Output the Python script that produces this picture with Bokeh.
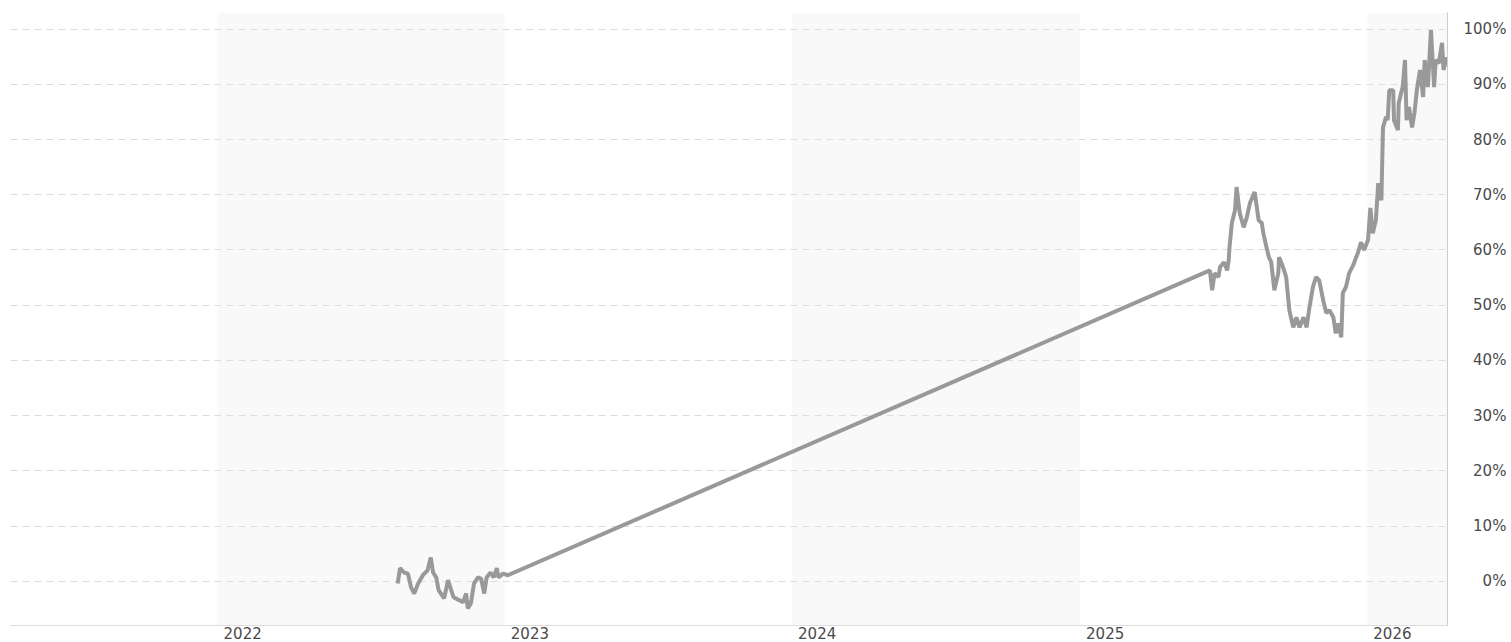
import pandas as pd
from bokeh.plotting import figure
from bokeh.models import (Range1d, FixedTicker, DatetimeTickFormatter,
                          BoxAnnotation, ColumnDataSource)
from bokeh.embed import file_html
from bokeh.resources import INLINE

# ---- data ----
dates = [
    "2022-08-18", "2022-08-21", "2022-08-26", "2022-08-31", "2022-09-04",
    "2022-09-08", "2022-09-13", "2022-09-19", "2022-09-25", "2022-09-29",
    "2022-10-02", "2022-10-06", "2022-10-09", "2022-10-16", "2022-10-21",
    "2022-10-25", "2022-10-28", "2022-11-04", "2022-11-09", "2022-11-13",
    "2022-11-15", "2022-11-19", "2022-11-23", "2022-11-28", "2022-12-02",
    "2022-12-06", "2022-12-09", "2022-12-14", "2022-12-18", "2022-12-22",
    "2022-12-24", "2022-12-30", "2023-01-05",
    "2025-06-15", "2025-06-18", "2025-06-21", "2025-06-26", "2025-06-28",
    "2025-07-03", "2025-07-07", "2025-07-09", "2025-07-10", "2025-07-13",
    "2025-07-17", "2025-07-19", "2025-07-23", "2025-07-28", "2025-08-01",
    "2025-08-05", "2025-08-11", "2025-08-16", "2025-08-20", "2025-08-22",
    "2025-08-26", "2025-08-29", "2025-09-01", "2025-09-05", "2025-09-10",
    "2025-09-11", "2025-09-16", "2025-09-20", "2025-09-24", "2025-09-29",
    "2025-10-03", "2025-10-07", "2025-10-12", "2025-10-16", "2025-10-19",
    "2025-10-24", "2025-10-28", "2025-11-01", "2025-11-06", "2025-11-10",
    "2025-11-14", "2025-11-19", "2025-11-22", "2025-11-25", "2025-11-29",
    "2025-12-01", "2025-12-05", "2025-12-09", "2025-12-14", "2025-12-18",
    "2025-12-20", "2025-12-24", "2025-12-28",
    "2026-01-02", "2026-01-05", "2026-01-08", "2026-01-12", "2026-01-15",
    "2026-01-19", "2026-01-21", "2026-01-25", "2026-01-27", "2026-01-29",
    "2026-02-03", "2026-02-04", "2026-02-09", "2026-02-10", "2026-02-15",
    "2026-02-18", "2026-02-20", "2026-02-23", "2026-02-27", "2026-03-02",
    "2026-03-05", "2026-03-09", "2026-03-13", "2026-03-15", "2026-03-19",
    "2026-03-23", "2026-03-27", "2026-03-29", "2026-04-02", "2026-04-06",
    "2026-04-08", "2026-04-12",
]
pct = [
    -0.4, 2.4, 1.6, 1.4, -1.1,
    -2.2, -0.4, 1.1, 2.0, 4.3,
    1.6, 0.7, -1.6, -3.1, 0.2,
    -1.6, -2.9, -3.4, -3.8, -2.2,
    -4.9, -4.0, -0.4, 0.7, 0.5,
    -2.2, 0.7, 1.6, 0.7, 2.4,
    0.7, 1.4, 1.1,
    56.3, 52.7, 55.8, 55.1, 56.9,
    57.8, 56.3, 58.2, 60.5, 64.9,
    67.2, 71.4, 66.7, 64.1, 65.9,
    68.5, 70.5, 65.4, 64.9, 63.0,
    60.5, 58.7, 57.8, 52.7, 55.8,
    58.7, 56.9, 55.1, 49.1, 46.0,
    47.8, 46.0, 47.8, 46.0, 49.1,
    53.3, 55.1, 54.5, 50.9, 48.6,
    49.1, 47.8, 44.9, 46.7, 44.2,
    52.2, 53.3, 55.8, 57.2, 58.7,
    59.4, 61.4, 60.0,
    61.8, 67.6, 63.0, 65.4, 72.1,
    69.0, 82.2, 84.1, 83.5, 88.9,
    88.9, 83.5, 81.7, 86.6, 89.5,
    94.4, 83.5, 85.9, 82.2, 84.8,
    88.9, 92.6, 87.7, 94.4, 89.5,
    99.8, 89.5, 94.4, 93.8, 97.5,
    92.6, 94.9,
]
tick_years = [2022, 2023, 2024, 2025, 2026]
band_years = [2022, 2024, 2026]
y_ticks = [0, 10, 20, 30, 40, 50, 60, 70, 80, 90, 100]
y_labels = ["0%", "10%", "20%", "30%", "40%", "50%", "60%", "70%", "80%", "90%", "100%"]

# ---- build ----
t = pd.to_datetime(dates)
x_end = t[-1] + pd.Timedelta(days=1)
x_start = x_end - pd.DateOffset(years=5)


def ms(ts):
    return pd.Timestamp(ts).value / 1e6


FONT = "DejaVu Sans"
TXT = "#4a4a4a"

p = figure(width=1510, height=641, x_axis_type="datetime",
           y_axis_location="right",
           x_range=Range1d(x_start, x_end), y_range=Range1d(-8, 103),
           output_backend="svg", toolbar_location=None,
           min_border_left=10, min_border_top=12, min_border_right=63,
           min_border_bottom=0)
p.outline_line_color = None
p.background_fill_color = "white"
p.border_fill_color = "white"

# alternating year bands
x0, x1 = ms(x_start), ms(x_end)
for yr in band_years:
    left = max(ms(f"{yr}-01-01"), x0)
    right = min(ms(f"{yr + 1}-01-01"), x1)
    p.add_layout(BoxAnnotation(left=left, right=right, fill_color="#f9f9f9",
                               fill_alpha=1.0, line_color=None, level="image"))

src = ColumnDataSource(dict(t=t, pct=pct))
p.line(x="t", y="pct", source=src, line_color="#999999", line_width=4)

# x axis: year labels placed just after each year start
xa = p.xaxis[0]
xa.ticker = FixedTicker(ticks=[ms(f"{yr}-01-01") + 32 * 86400000 for yr in tick_years],
                        minor_ticks=[])
fmt = "%Y"
xa.formatter = DatetimeTickFormatter(years=fmt, months=fmt, days=fmt, hours=fmt,
                                     hourmin=fmt, minutes=fmt, minsec=fmt,
                                     seconds=fmt, milliseconds=fmt,
                                     microseconds=fmt)
xa.axis_line_color = "#dddddd"
xa.major_tick_line_color = None
xa.minor_tick_line_color = None
xa.major_tick_out = 0
xa.major_tick_in = 0
xa.major_label_standoff = 1
xa.major_label_text_font = FONT
xa.major_label_text_font_size = "15px"
xa.major_label_text_color = TXT
p.xgrid.visible = False

# y axis on the right, right-aligned labels via figure spaces
ya = p.yaxis[0]
ya.ticker = FixedTicker(ticks=y_ticks, minor_ticks=[])
width = max(len(s) for s in y_labels)
ya.major_label_overrides = {v: "\u2007" * (width - len(s)) + s
                            for v, s in zip(y_ticks, y_labels)}
ya.axis_line_color = "#cccccc"
ya.major_tick_line_color = None
ya.minor_tick_line_color = None
ya.major_label_standoff = 10
ya.major_label_text_font = FONT
ya.major_label_text_font_size = "15px"
ya.major_label_text_color = TXT

p.ygrid.grid_line_color = "#dddddd"
p.ygrid.grid_line_dash = "7 5"
p.ygrid.grid_line_width = 1

open("out.html", "w").write(file_html(p, INLINE))
